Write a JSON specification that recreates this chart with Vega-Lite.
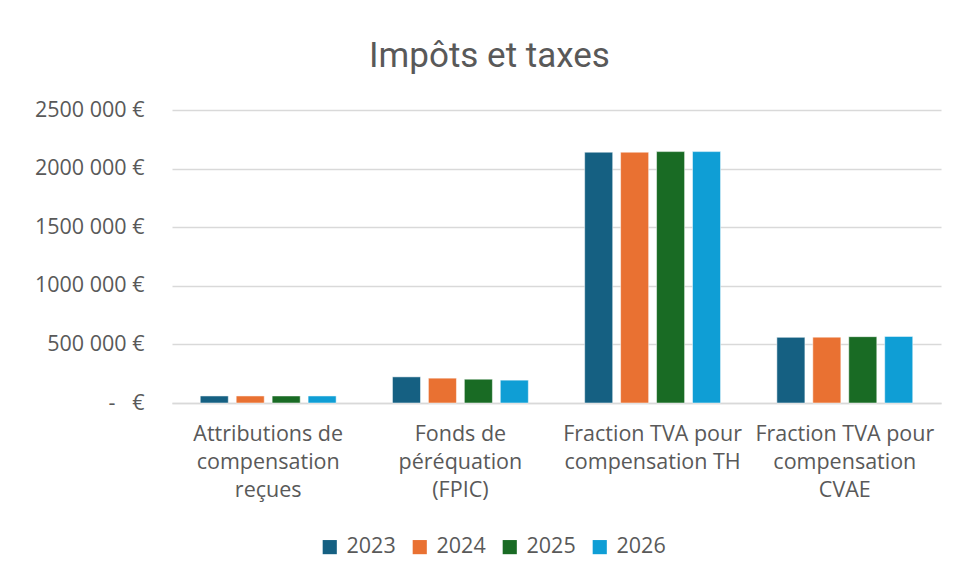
{
  "$schema": "https://vega.github.io/schema/vega-lite/v6.json",
  "width": 769,
  "height": 293,
  "autosize": {"type": "none"},
  "padding": {"left": 172, "top": 110, "right": 13, "bottom": 174},
  "background": "white",
  "title": {
    "text": "Impôts et taxes",
    "anchor": "middle",
    "frame": "group",
    "dx": -67,
    "offset": 25,
    "fontSize": 35,
    "font": "Roboto",
    "fontWeight": "normal",
    "color": "#595959"
  },
  "data": {
    "values": [
      {"cat": "Attributions de|compensation|reçues", "year": "2023", "value": 60000},
      {"cat": "Attributions de|compensation|reçues", "year": "2024", "value": 60000},
      {"cat": "Attributions de|compensation|reçues", "year": "2025", "value": 60000},
      {"cat": "Attributions de|compensation|reçues", "year": "2026", "value": 60000},
      {"cat": "Fonds de|péréquation|(FPIC)", "year": "2023", "value": 223000},
      {"cat": "Fonds de|péréquation|(FPIC)", "year": "2024", "value": 212000},
      {"cat": "Fonds de|péréquation|(FPIC)", "year": "2025", "value": 203000},
      {"cat": "Fonds de|péréquation|(FPIC)", "year": "2026", "value": 195000},
      {"cat": "Fraction TVA pour|compensation TH", "year": "2023", "value": 2140000},
      {"cat": "Fraction TVA pour|compensation TH", "year": "2024", "value": 2140000},
      {"cat": "Fraction TVA pour|compensation TH", "year": "2025", "value": 2145000},
      {"cat": "Fraction TVA pour|compensation TH", "year": "2026", "value": 2145000},
      {"cat": "Fraction TVA pour|compensation|CVAE", "year": "2023", "value": 560000},
      {"cat": "Fraction TVA pour|compensation|CVAE", "year": "2024", "value": 562000},
      {"cat": "Fraction TVA pour|compensation|CVAE", "year": "2025", "value": 566000},
      {"cat": "Fraction TVA pour|compensation|CVAE", "year": "2026", "value": 568000}
    ]
  },
  "mark": {"type": "bar", "stroke": "white", "strokeWidth": 0.5},
  "encoding": {
    "x": {
      "field": "cat",
      "type": "nominal",
      "sort": null,
      "title": null,
      "scale": {"paddingInner": 0.293, "paddingOuter": 0.147},
      "axis": {
        "labelAngle": 0,
        "labelExpr": "split(datum.label, '|')",
        "labelLineHeight": 28,
        "labelFontSize": 21.5,
        "labelFont": "Open Sans",
        "labelColor": "#595959",
        "labelPadding": 20,
        "labelBaseline": "top",
        "ticks": false,
        "domain": true,
        "domainColor": "#d9d9d9",
        "domainWidth": 1.5,
        "grid": false,
        "labelLimit": 300
      }
    },
    "xOffset": {
      "field": "year",
      "type": "nominal",
      "scale": {"paddingInner": 0.22, "paddingOuter": 0}
    },
    "y": {
      "field": "value",
      "type": "quantitative",
      "title": null,
      "scale": {"domain": [0, 2500000], "nice": false},
      "axis": {
        "values": [0, 500000, 1000000, 1500000, 2000000, 2500000],
        "labelExpr": "datum.value == 0 ? '-\u00a0\u00a0\u00a0€' : floor(datum.value / 1000) + ' 000 €'",
        "labelFontSize": 21.5,
        "labelFont": "Open Sans",
        "labelColor": "#595959",
        "labelPadding": 28,
        "ticks": false,
        "domain": false,
        "gridColor": "#d9d9d9",
        "gridWidth": 1.5
      }
    },
    "color": {
      "field": "year",
      "type": "nominal",
      "title": null,
      "scale": {
        "domain": ["2023", "2024", "2025", "2026"],
        "range": ["#156082", "#E97132", "#196B24", "#0F9ED5"]
      },
      "legend": {
        "orient": "none",
        "direction": "horizontal",
        "legendX": 147,
        "legendY": 426,
        "symbolType": "square",
        "symbolSize": 200,
        "symbolStrokeWidth": 0,
        "labelFontSize": 21.5,
        "labelFont": "Open Sans",
        "labelColor": "#595959",
        "labelOffset": 6,
        "columnPadding": 13
      }
    }
  },
  "config": {"view": {"stroke": null}}
}
